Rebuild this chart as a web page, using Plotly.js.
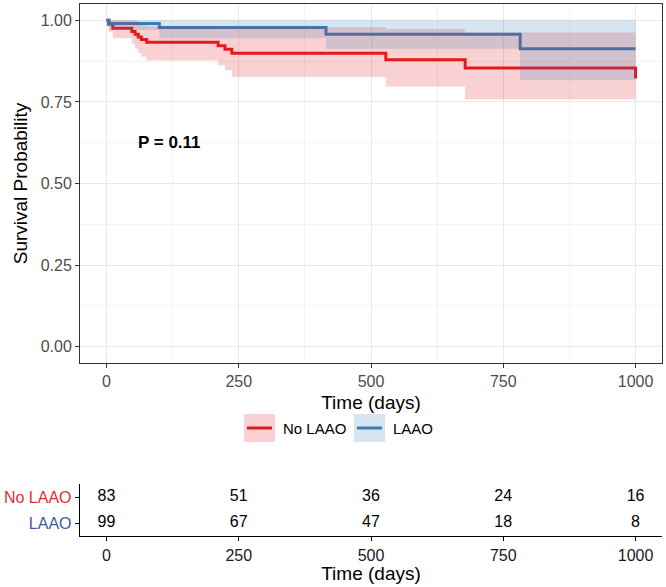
<!DOCTYPE html>
<html>
<head>
<meta charset="utf-8">
<script src="https://cdn.plot.ly/plotly-3.0.1.min.js"></script>
<style>html,body{margin:0;padding:0;background:#fff;}#chart{width:666px;height:587px;}</style>
</head>
<body>
<div id="chart"></div>
<script>
// ---- Data ----
const groupNames = ["No LAAO", "LAAO"];
// No LAAO Kaplan-Meier step curve
const redTime  = [0, 4, 12, 48, 54, 60, 66, 76, 211, 224, 237, 528, 678, 1000];
const redSurv  = [1.0, 0.988, 0.976, 0.966, 0.957, 0.949, 0.941, 0.933, 0.922, 0.911, 0.899, 0.879, 0.854, 0.822];
const redLower = [1.0, 0.965, 0.945, 0.928, 0.913, 0.900, 0.888, 0.877, 0.862, 0.848, 0.826, 0.797, 0.757, 0.757];
const redUpper = [1.0, 1.0, 1.0, 1.0, 0.998, 0.992, 0.986, 0.982, 0.980, 0.980, 0.979, 0.974, 0.963, 0.963];
// LAAO Kaplan-Meier step curve
const blueTime  = [0, 5, 100, 415, 782, 1000];
const blueSurv  = [1.0, 0.990, 0.978, 0.957, 0.913, 0.913];
const blueLower = [1.0, 0.970, 0.945, 0.913, 0.816, 0.816];
const blueUpper = [1.0, 1.0, 1.0, 1.0, 1.0, 1.0];
// Number at risk table
const riskTimes = [0, 250, 500, 750, 1000];
const riskNoLAAO = [83, 51, 36, 24, 16];
const riskLAAO = [99, 67, 47, 18, 8];
const xTicks = [0, 250, 500, 750, 1000];
const xMinor = [125, 375, 625, 875];
const yTicks = [0, 0.25, 0.5, 0.75, 1.0];
const yMinor = [0.125, 0.375, 0.625, 0.875];
const yTickText = ["0.00", "0.25", "0.50", "0.75", "1.00"];
const pLabel = "P = 0.11";

// ---- Styles ----
const RED = "#E41A1C", BLUE = "#377EB8";
const RED_FILL = "rgba(228,26,28,0.2)", BLUE_FILL = "rgba(55,126,184,0.2)";
const FONT = "Liberation Sans, Arial, sans-serif";
const W = 666, H = 587;
const px = v => v / W, py = v => 1 - v / H;

const traces = [
  {x: redTime, y: redSurv, mode: "lines", line: {shape: "hv", color: RED, width: 3}, xaxis: "x", yaxis: "y", showlegend: false, hoverinfo: "skip"},
  {x: blueTime, y: blueSurv, mode: "lines", line: {shape: "hv", color: BLUE, width: 3}, xaxis: "x", yaxis: "y", showlegend: false, hoverinfo: "skip"},
  {x: redTime, y: redLower, mode: "lines", line: {shape: "hv", width: 0, color: RED_FILL}, xaxis: "x", yaxis: "y", showlegend: false, hoverinfo: "skip"},
  {x: redTime, y: redUpper, mode: "lines", fill: "tonexty", fillcolor: RED_FILL, line: {shape: "hv", width: 0, color: RED_FILL}, xaxis: "x", yaxis: "y", showlegend: false, hoverinfo: "skip"},
  {x: blueTime, y: blueLower, mode: "lines", line: {shape: "hv", width: 0, color: BLUE_FILL}, xaxis: "x", yaxis: "y", showlegend: false, hoverinfo: "skip"},
  {x: blueTime, y: blueUpper, mode: "lines", fill: "tonexty", fillcolor: BLUE_FILL, line: {shape: "hv", width: 0, color: BLUE_FILL}, xaxis: "x", yaxis: "y", showlegend: false, hoverinfo: "skip"},
  {x: riskTimes, y: riskTimes.map(() => 1), text: riskNoLAAO.map(String), mode: "text", textfont: {family: FONT, size: 16, color: "#000"}, xaxis: "x2", yaxis: "y2", showlegend: false, hoverinfo: "skip"},
  {x: riskTimes, y: riskTimes.map(() => 0), text: riskLAAO.map(String), mode: "text", textfont: {family: FONT, size: 16, color: "#000"}, xaxis: "x2", yaxis: "y2", showlegend: false, hoverinfo: "skip"}
];

const xDom = [px(80), px(662)];
const layout = {
  width: W, height: H,
  margin: {l: 0, r: 0, t: 0, b: 0},
  paper_bgcolor: "#fff", plot_bgcolor: "#fff",
  font: {family: FONT, color: "#000"},
  showlegend: false,
  xaxis: {
    domain: xDom, range: [-50, 1050], tickmode: "array", tickvals: xTicks,
    showgrid: true, gridcolor: "#E8E8E8", gridwidth: 1,
    minor: {tickmode: "array", tickvals: xMinor, showgrid: true, gridcolor: "#F3F3F3", gridwidth: 1, ticklen: 0},
    zeroline: false, showline: true, mirror: true, linecolor: "#333", linewidth: 1,
    ticks: "outside", ticklen: 4, tickcolor: "#333", tickwidth: 1,
    tickfont: {size: 16, color: "#4D4D4D"},
    title: {text: "Time (days)", font: {size: 19, color: "#000"}, standoff: 6},
    automargin: false, fixedrange: true, anchor: "y"
  },
  yaxis: {
    domain: [py(363), py(4)], range: [-0.05, 1.05], tickmode: "array", tickvals: yTicks, ticktext: yTickText,
    showgrid: true, gridcolor: "#E8E8E8", gridwidth: 1,
    minor: {tickmode: "array", tickvals: yMinor, showgrid: true, gridcolor: "#F3F3F3", gridwidth: 1, ticklen: 0},
    zeroline: false, showline: true, mirror: true, linecolor: "#333", linewidth: 1,
    ticks: "outside", ticklen: 4, tickcolor: "#333", tickwidth: 1,
    tickfont: {size: 16, color: "#4D4D4D"},
    title: {text: "Survival Probability", font: {size: 19, color: "#000"}, standoff: 8},
    automargin: false, fixedrange: true, anchor: "x"
  },
  xaxis2: {
    domain: xDom, range: [-50, 1050], tickmode: "array", tickvals: xTicks,
    showgrid: false, zeroline: false, showline: true, mirror: false, linecolor: "#000", linewidth: 1.3,
    ticks: "outside", ticklen: 4, tickcolor: "#000", tickwidth: 1,
    tickfont: {size: 16, color: "#1a1a1a"},
    title: {text: "Time (days)", font: {size: 19, color: "#000"}, standoff: 0},
    automargin: false, fixedrange: true, anchor: "y2"
  },
  yaxis2: {
    domain: [py(536), py(484)], range: [-0.5, 1.5], tickmode: "array", tickvals: [1, 0],
    ticktext: ['<span style="color:#E0302E">' + groupNames[0] + '</span>', '<span style="color:#3F5AA8">' + groupNames[1] + '</span>'],
    showgrid: false, zeroline: false, showline: true, mirror: false, linecolor: "#000", linewidth: 1.3,
    ticks: "outside", ticklen: 4, tickcolor: "#000", tickwidth: 1,
    tickfont: {size: 16},
    automargin: false, fixedrange: true, anchor: "x2"
  },
  shapes: [
    {type: "rect", xref: "paper", yref: "paper", x0: px(244), x1: px(275), y0: py(442), y1: py(414), fillcolor: RED_FILL, line: {width: 0}},
    {type: "line", xref: "paper", yref: "paper", x0: px(247), x1: px(272), y0: py(428), y1: py(428), line: {color: RED, width: 3}},
    {type: "rect", xref: "paper", yref: "paper", x0: px(354), x1: px(385), y0: py(442), y1: py(414), fillcolor: BLUE_FILL, line: {width: 0}},
    {type: "line", xref: "paper", yref: "paper", x0: px(357), x1: px(382), y0: py(428), y1: py(428), line: {color: BLUE, width: 3}}
  ],
  annotations: [
    {text: "<b>" + pLabel + "</b>", x: 120, y: 0.625, xref: "x", yref: "y", showarrow: false, font: {size: 17, color: "#000"}},
    {text: groupNames[0], x: px(281), y: py(428), xref: "paper", yref: "paper", xanchor: "left", yanchor: "middle", showarrow: false, font: {size: 15, color: "#000"}},
    {text: groupNames[1], x: px(391), y: py(428), xref: "paper", yref: "paper", xanchor: "left", yanchor: "middle", showarrow: false, font: {size: 15, color: "#000"}}
  ]
};

Plotly.newPlot("chart", traces, layout, {displayModeBar: false, staticPlot: true});
</script>
</body>
</html>
